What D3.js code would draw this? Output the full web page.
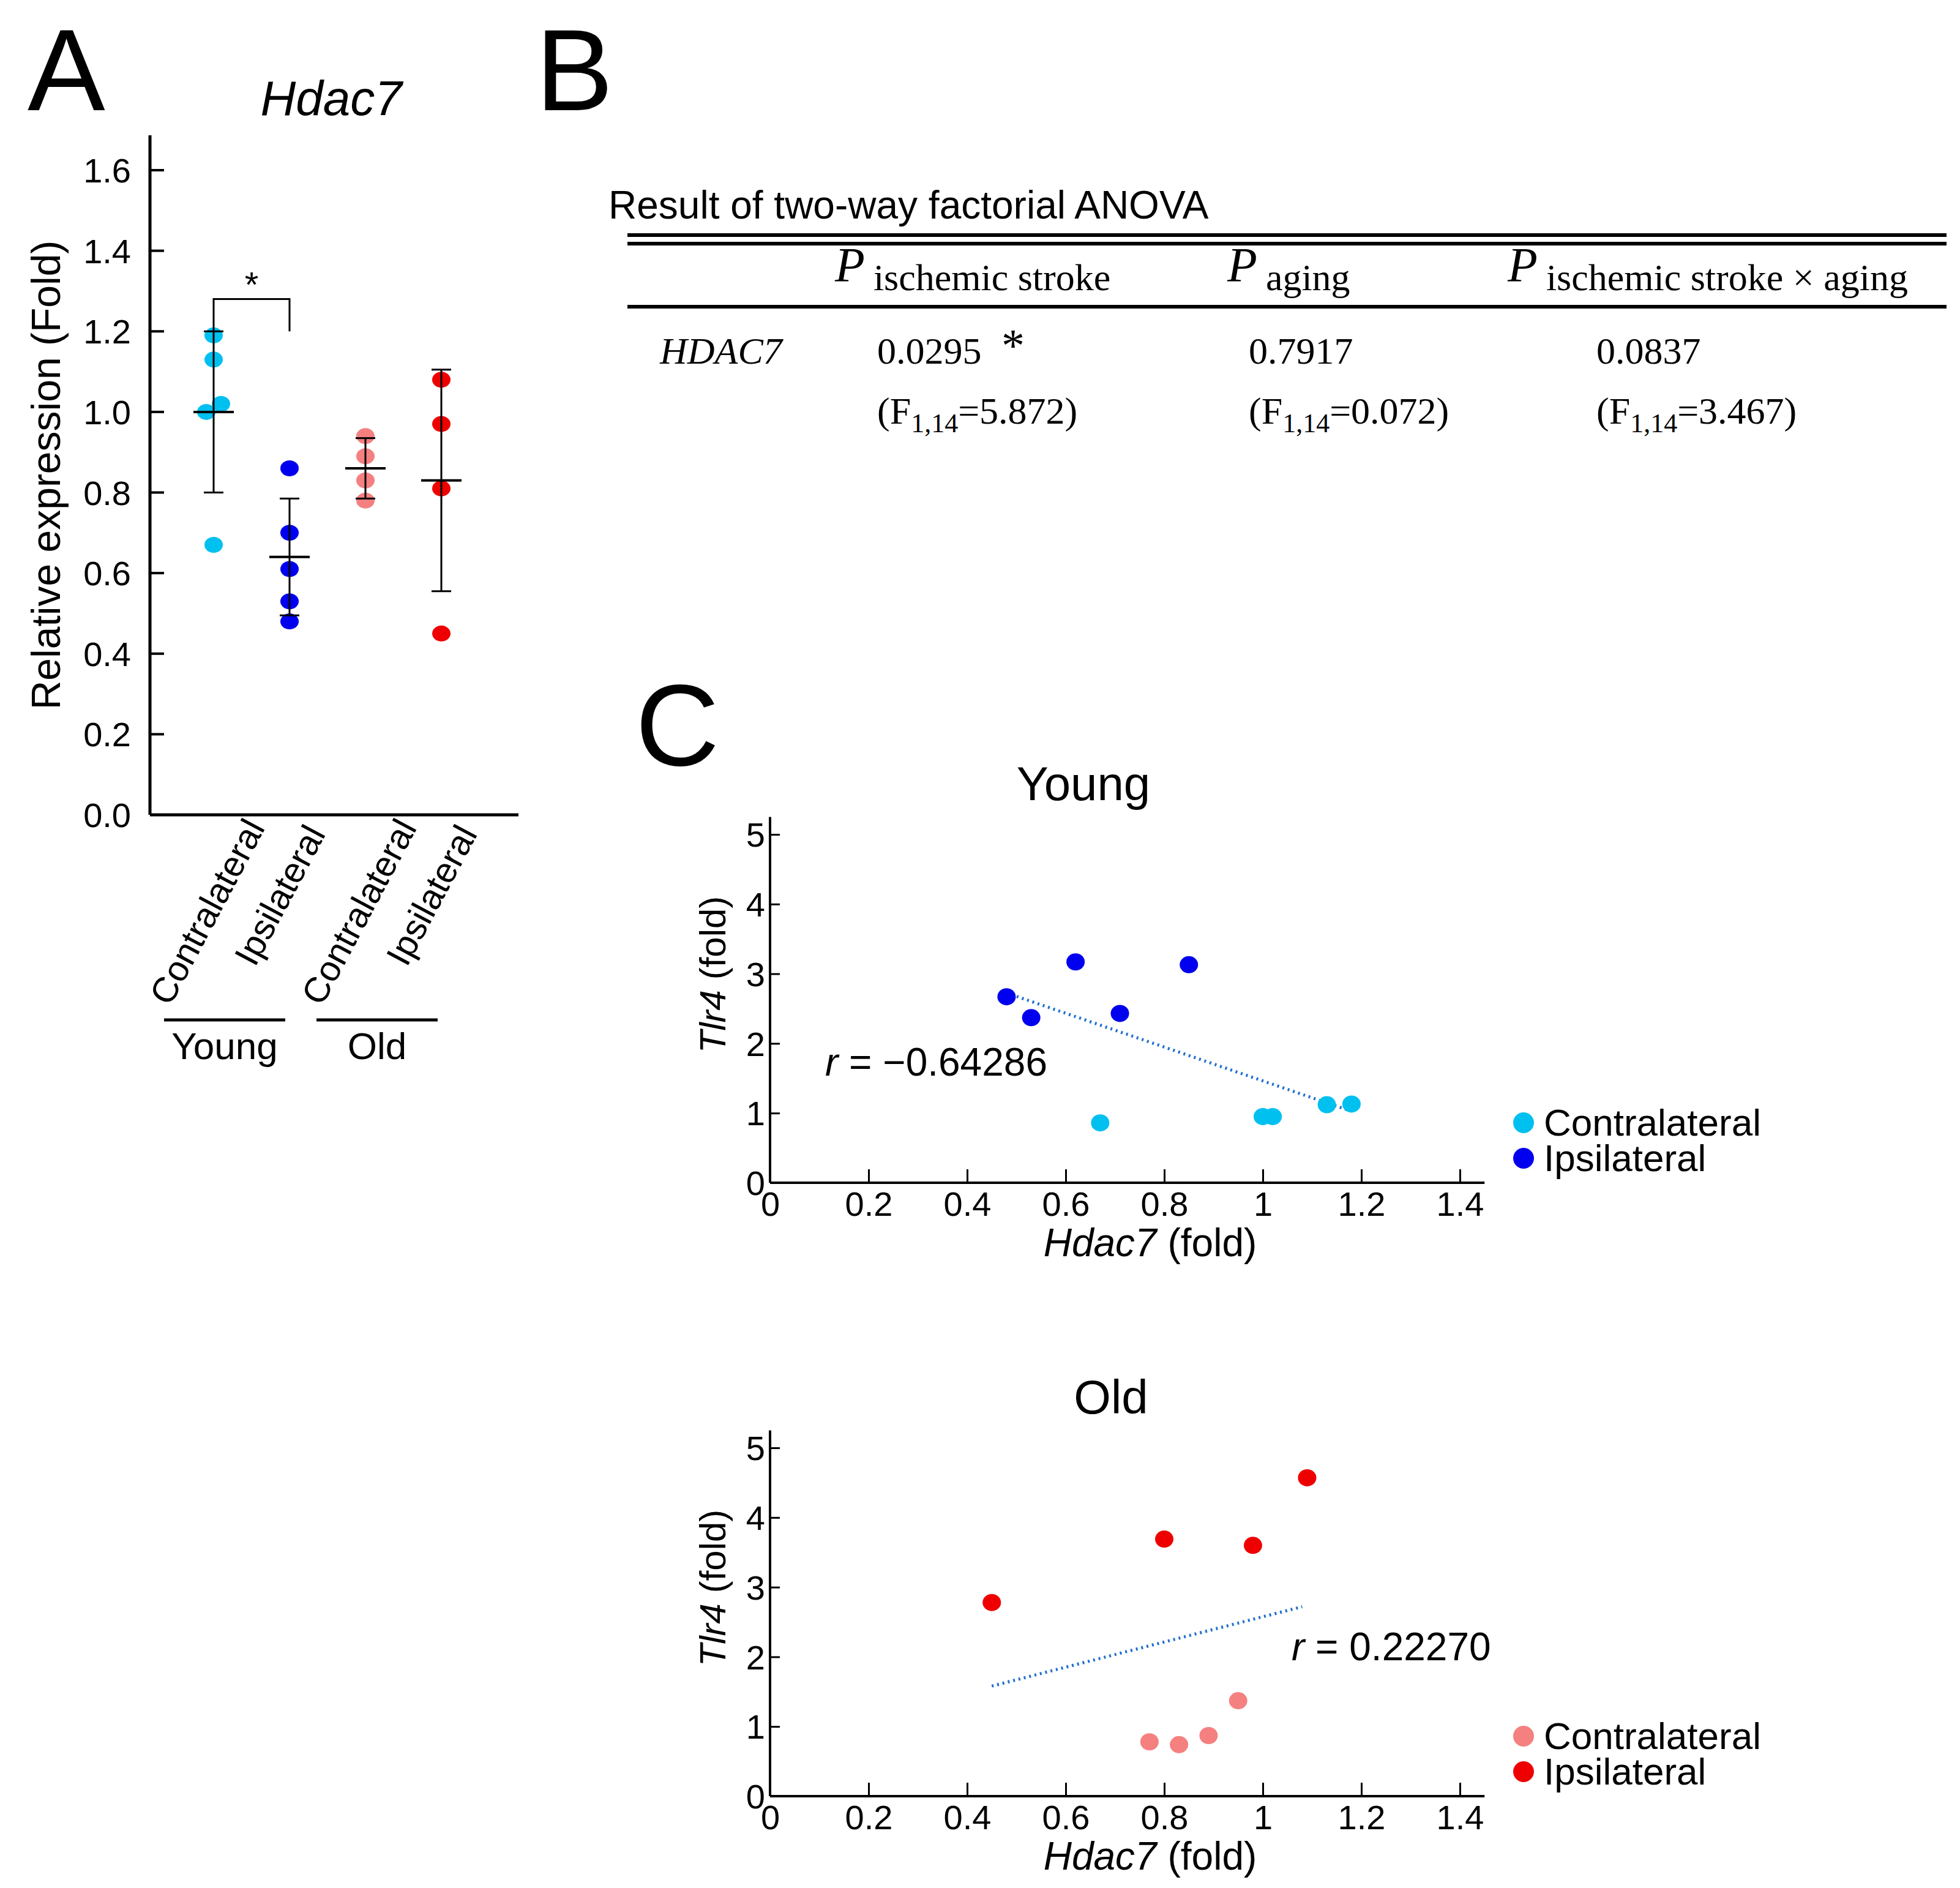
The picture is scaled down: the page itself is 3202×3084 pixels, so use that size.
<!DOCTYPE html>
<html><head><meta charset="utf-8">
<script src="https://cdn.jsdelivr.net/npm/d3@7"></script>
<style>body{margin:0;background:#fff}</style>
</head><body>
<script>
// ---------- Data ----------
const groups = ["Young Contralateral","Young Ipsilateral","Old Contralateral","Old Ipsilateral"];
const groupLabels = ["Contralateral","Ipsilateral","Contralateral","Ipsilateral"];
const groupColors = ["#00c0f0","#0000ee","#f58080","#ee0000"];
const youngContra = [1.19,1.13,1.02,1.00,0.67];
const youngIpsi = [0.86,0.70,0.61,0.53,0.48];
const oldContra = [0.94,0.89,0.83,0.78];
const oldIpsi = [1.08,0.97,0.81,0.45];
const groupMeans = [1.00,0.64,0.86,0.83];
const groupSD = [0.20,0.145,0.075,0.275];
const yTicksA = [0,0.2,0.4,0.6,0.8,1.0,1.2,1.4,1.6];

const youngIpsiXY = [[0.48,2.67],[0.53,2.37],[0.62,3.17],[0.71,2.43],[0.85,3.13]];
const youngContraXY = [[0.67,0.86],[1.00,0.95],[1.02,0.95],[1.13,1.12],[1.18,1.13]];
const youngFit = [[0.49,2.70],[1.17,1.05]];
const oldIpsiXY = [[0.45,2.78],[0.80,3.69],[0.98,3.60],[1.09,4.57]];
const oldContraXY = [[0.77,0.78],[0.83,0.74],[0.89,0.87],[0.95,1.37]];
const oldFit = [[0.45,1.58],[1.08,2.72]];
const xTicksC = [0,0.2,0.4,0.6,0.8,1,1.2,1.4];
const yTicksC = [0,1,2,3,4,5];

const W=3202,H=3084;
const svg=d3.select("body").append("svg").attr("width",W).attr("height",H).attr("font-family","Arial, 'Liberation Sans', sans-serif");

// ---------- Panel A ----------
svg.append("text").attr("x",45).attr("y",180).attr("font-size",190).text("A");
svg.append("text").attr("x",541).attr("y",188).attr("font-size",80).attr("font-style","italic").attr("text-anchor","middle").text("Hdac7");
const yA=d3.scaleLinear().domain([0,1.6]).range([1331,278]);
const xA=d3.scalePoint().domain(groups).range([349,721]);
const gA=svg.append("g");
gA.append("line").attr("x1",245).attr("x2",245).attr("y1",221).attr("y2",1331).attr("stroke","#000").attr("stroke-width",5);
gA.append("line").attr("x1",245).attr("x2",847).attr("y1",1331).attr("y2",1331).attr("stroke","#000").attr("stroke-width",5);
yTicksA.forEach(t=>{
  gA.append("line").attr("x1",245).attr("x2",268).attr("y1",yA(t)).attr("y2",yA(t)).attr("stroke","#000").attr("stroke-width",4);
  gA.append("text").attr("x",214).attr("y",yA(t)+20).attr("text-anchor","end").attr("font-size",56).text(t.toFixed(1));
});
gA.append("text").attr("transform","translate(98,776) rotate(-90)").attr("text-anchor","middle").attr("font-size",66).text("Relative expression (Fold)");
const series=[youngContra,youngIpsi,oldContra,oldIpsi];
const jitter=[[0,0,12,-12,0],[0,0,0,0,0],[0,0,0,0],[0,0,0,0]];
series.forEach((vals,i)=>{
  const cx=xA(groups[i]);
  vals.forEach((v,j)=>gA.append("ellipse").attr("cx",cx+(jitter[i][j]||0)).attr("cy",yA(v)).attr("rx",15).attr("ry",13).attr("fill",groupColors[i]));
  const m=groupMeans[i],s=groupSD[i];
  gA.append("line").attr("x1",cx).attr("x2",cx).attr("y1",yA(m+s)).attr("y2",yA(m-s)).attr("stroke","#000").attr("stroke-width",3);
  [m+s,m-s].forEach(v=>gA.append("line").attr("x1",cx-16).attr("x2",cx+16).attr("y1",yA(v)).attr("y2",yA(v)).attr("stroke","#000").attr("stroke-width",3));
  gA.append("line").attr("x1",cx-33).attr("x2",cx+33).attr("y1",yA(m)).attr("y2",yA(m)).attr("stroke","#000").attr("stroke-width",4);
  gA.append("text").attr("transform",`translate(${cx+(i%2?60:85)},${i%2?1362:1352}) rotate(-62)`).attr("text-anchor","end").attr("font-size",58).text(groupLabels[i]);
});
gA.append("path").attr("d",`M${xA(groups[0])},${yA(1.2)}V${yA(1.28)}H${xA(groups[1])}V${yA(1.2)}`).attr("fill","none").attr("stroke","#000").attr("stroke-width",3);
gA.append("text").attr("x",(xA(groups[0])+xA(groups[1]))/2).attr("y",yA(1.28)-4).attr("text-anchor","middle").attr("font-size",58).text("*");
[["Young",268,466],["Old",517,715]].forEach(([t,a,b])=>{
  gA.append("line").attr("x1",a).attr("x2",b).attr("y1",1666).attr("y2",1666).attr("stroke","#000").attr("stroke-width",5);
  gA.append("text").attr("x",(a+b)/2).attr("y",1730).attr("text-anchor","middle").attr("font-size",62).text(t);
});

// ---------- Panel B ----------
svg.append("text").attr("x",875).attr("y",180).attr("font-size",190).text("B");
svg.append("text").attr("x",994).attr("y",357).attr("font-size",64).text("Result of two-way factorial ANOVA");
[384,398,501].forEach(y=>svg.append("line").attr("x1",1025).attr("x2",3180).attr("y1",y).attr("y2",y).attr("stroke","#000").attr("stroke-width",6));
const headers=[["ischemic stroke",1364],["aging",2005],["ischemic stroke × aging",2463]];
const pvals=["0.0295","0.7917","0.0837"];
const fvals=["5.872","0.072","3.467"];
const valX=[1433,2040,2608];
const tf='"Liberation Serif","Times New Roman",serif';
headers.forEach(([h,x],i)=>{
  const t=svg.append("text").attr("x",x).attr("y",460).attr("font-family",tf).attr("font-size",62);
  t.append("tspan").attr("font-style","italic").attr("font-size",80).text("P");
  t.append("tspan").attr("dx",14).attr("dy",14).text(h);
  svg.append("text").attr("x",valX[i]).attr("y",594).attr("font-family",tf).attr("font-size",62).text(pvals[i]);
  const f=svg.append("text").attr("x",valX[i]).attr("y",692).attr("font-family",tf).attr("font-size",62);
  f.append("tspan").text("(F");
  f.append("tspan").attr("dy",14).attr("font-size",44).text("1,14");
  f.append("tspan").attr("dy",-14).text("=" + fvals[i] + ")");
});
svg.append("text").attr("x",1078).attr("y",594).attr("font-family",tf).attr("font-style","italic").attr("font-size",62).text("HDAC7");
svg.append("text").attr("x",1636).attr("y",590).attr("font-family",tf).attr("font-size",76).text("*");

// ---------- Panel C ----------
svg.append("text").attr("x",1038).attr("y",1250).attr("font-size",190).text("C");
const nf='"Liberation Sans Narrow","Arial Narrow",Arial,sans-serif';
function scatter(oy,title,titleX,ipsi,contra,fit,cIpsi,cContra,rText,rx,ry){
  const x=d3.scaleLinear().domain([0,1.4]).range([1258,2385]);
  const y=d3.scaleLinear().domain([0,5]).range([oy,oy-569]);
  const g=svg.append("g");
  g.append("text").attr("x",titleX).attr("y",oy-625).attr("text-anchor","middle").attr("font-size",78).text(title);
  g.append("g").attr("transform",`translate(0,${oy})`).call(d3.axisBottom(x).tickValues(xTicksC).tickSize(-22).tickSizeOuter(0).tickFormat(d=>d===0?"0":String(d)))
    .call(a=>{a.select(".domain").attr("d",`M${x(0)},0H${x(1.45)}`).attr("stroke-width",4);a.selectAll("line").attr("stroke-width",3);
      a.selectAll("text").attr("font-family",nf).attr("font-size",56).attr("y",14).attr("dy","0.71em");});
  g.append("g").attr("transform",`translate(${x(0)},0)`).call(d3.axisLeft(y).tickValues(yTicksC).tickSize(-16).tickSizeOuter(0).tickFormat(d3.format("d")))
    .call(a=>{a.select(".domain").attr("d",`M0,${y(5.25)}V${oy}`).attr("stroke-width",4);a.selectAll("line").attr("stroke-width",3);
      a.selectAll("text").attr("font-family",nf).attr("font-size",56).attr("x",-8).attr("dy","0.35em");});
  g.append("path").attr("d",d3.line().x(d=>x(d[0])).y(d=>y(d[1]))(fit)).attr("stroke","#1f6fd0").attr("stroke-width",5).attr("stroke-dasharray","3,6").attr("fill","none");
  contra.forEach(d=>g.append("ellipse").attr("cx",x(d[0])).attr("cy",y(d[1])).attr("rx",15).attr("ry",14).attr("fill",cContra));
  ipsi.forEach(d=>g.append("ellipse").attr("cx",x(d[0])).attr("cy",y(d[1])).attr("rx",15).attr("ry",14).attr("fill",cIpsi));
  const rt=g.append("text").attr("x",rx).attr("y",ry).attr("font-family",nf).attr("font-size",64);
  rt.append("tspan").attr("font-style","italic").text("r");rt.append("tspan").text(" = "+rText);
  const xl=g.append("text").attr("x",1879).attr("y",oy+120).attr("text-anchor","middle").attr("font-family",nf).attr("font-size",64);
  xl.append("tspan").attr("font-style","italic").text("Hdac7");xl.append("tspan").text(" (fold)");
  const yl=g.append("text").attr("transform",`translate(1185,${oy-340}) rotate(-90)`).attr("text-anchor","middle").attr("font-size",60);
  yl.append("tspan").attr("font-style","italic").text("Tlr4");yl.append("tspan").text(" (fold)");
  [["Contralateral",cContra,oy-98],["Ipsilateral",cIpsi,oy-40]].forEach(([t,c,yy])=>{
    g.append("ellipse").attr("cx",2489).attr("cy",yy).attr("rx",17).attr("ry",17).attr("fill",c);
    g.append("text").attr("x",2522).attr("y",yy+21).attr("font-family",nf).attr("font-size",62).text(t);
  });
}
scatter(1932,"Young",1770,youngIpsiXY,youngContraXY,youngFit,"#0000ee","#00c0f0","\u22120.64286",1348,1757);
scatter(2934,"Old",1815,oldIpsiXY,oldContraXY,oldFit,"#ee0000","#f58080","0.22270",2110,2712);
</script>
</body></html>
